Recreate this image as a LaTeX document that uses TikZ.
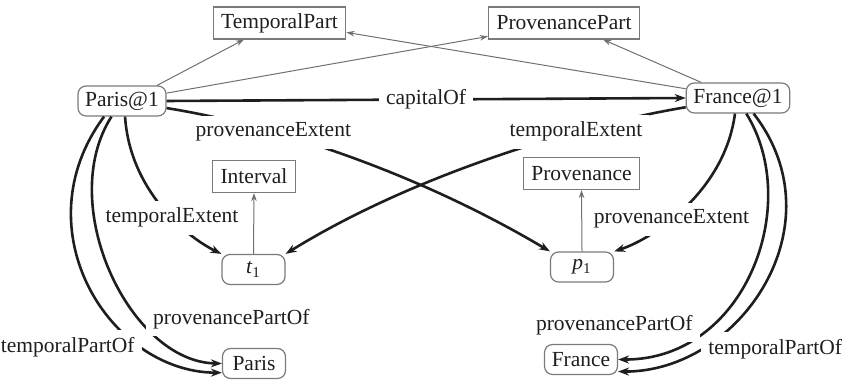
\documentclass[tikz,border=0pt]{standalone}
\usepackage{fontspec}
\setmainfont{Liberation Serif}
\usetikzlibrary{arrows.meta}
\definecolor{edgegray}{HTML}{707070}
\definecolor{boxgray}{HTML}{7A7A7A}
\definecolor{ink}{HTML}{1E1E1E}
\begin{document}
\begin{tikzpicture}[x=0.5pt,y=-0.5pt,
  font=\fontsize{10.75}{13}\selectfont, text=ink,
  classbox/.style={draw=boxgray, line width=0.6pt, rectangle, minimum height=16pt, inner xsep=4pt, inner ysep=0pt},
  instbox/.style={draw=boxgray, line width=0.6pt, rectangle, rounded corners=4pt, minimum height=15pt, minimum width=31.5pt, inner xsep=3.6pt, inner ysep=0pt},
  typeedge/.style={draw=edgegray, line width=0.5pt, -{Stealth[length=4pt,width=2.8pt]}},
  relation/.style={draw=ink, line width=1.3pt, -{Stealth[length=5.5pt,width=4pt]}},
  lbl/.style={fill=white, inner sep=3.6pt, text=ink}]
\useasboundingbox (0,0) rectangle (844,383);

% classes
\node[classbox] (tpart) at (279.5,23) {TemporalPart};
\node[classbox] (ppart) at (564,23) {ProvenancePart};
\node[classbox] (interval) at (254,176.5) {Interval};
\node[classbox] (prov) at (581.5,173.5) {Provenance};

% instances
\node[instbox] (parisAt) at (122,101) {Paris@1};
\node[instbox] (franceAt) at (738,98) {France@1};
\node[instbox] (t1) at (253.5,269.5) {\textit{t}\textsubscript{1}};
\node[instbox] (p1) at (582,267) {\textit{p}\textsubscript{1}};
\node[instbox] (paris) at (254,363.5) {Paris};
\node[instbox] (france) at (581,359.5) {France};

% type links
\draw[typeedge] (parisAt.24) -- (tpart.-155);
\draw[typeedge] (parisAt.10) -- (ppart.190);
\draw[typeedge] (franceAt.170) -- (tpart.-8);
\draw[typeedge] (franceAt.157) -- (ppart.-23);
\draw[typeedge] (t1.north) -- (interval.south);
\draw[typeedge] (p1.north) -- (prov.south);

% relations
\draw[relation] (parisAt.east) -- (franceAt.west) node[lbl, midway] {capitalOf};

\draw[relation] (parisAt.-9) .. controls (290,128) and (430,180) .. (p1.north west)
  node[lbl, pos=0.28] {provenanceExtent};
\draw[relation] (franceAt.190) .. controls (563,128) and (405,180) .. (t1.north east)
  node[lbl, pos=0.28] {temporalExtent};

\draw[relation] (parisAt.-79) .. controls (130,190) and (185,236) .. (t1.north west)
  node[lbl, pos=0.59] {temporalExtent};
\draw[relation] (franceAt.-101) .. controls (725,190) and (655,238) .. (p1.north east)
  node[lbl, pos=0.6] {provenanceExtent};

\draw[relation] (parisAt.-139) .. controls (20,230) and (110,372) .. (paris.196)
  node[lbl, pos=0.745, anchor=east] {temporalPartOf};
\draw[relation] (parisAt.-124) .. controls (55,205) and (130,362) .. (paris.west)
  node[lbl, pos=0.69, anchor=west, yshift=2.5pt] {provenancePartOf};

\draw[relation] (franceAt.-45) .. controls (840,225) and (740,372) .. (france.-18)
  node[lbl, pos=0.76, anchor=west] {temporalPartOf};
\draw[relation] (franceAt.-62) .. controls (803,205) and (745,360) .. (france.east)
  node[lbl, pos=0.745, anchor=east, yshift=4pt] {provenancePartOf};
\end{tikzpicture}
\end{document}
